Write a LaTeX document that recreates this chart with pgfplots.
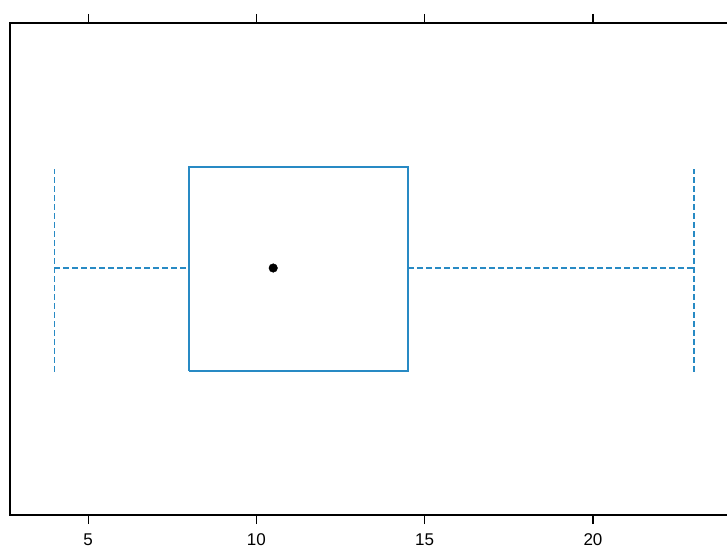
\documentclass[border=0pt]{standalone}
\usepackage{pgfplots}
\pgfplotsset{compat=1.18}
\usepackage{fontspec}
\setmainfont{Liberation Sans}
\definecolor{boxc}{RGB}{40,138,196}
\begin{document}
\begin{tikzpicture}[x=1pt,y=1pt]
\useasboundingbox (0,0) rectangle (727,549);
\begin{axis}[
  at={(10pt,34pt)}, anchor=south west,
  scale only axis, width=718.6pt, height=492pt,
  xmin=2.68, xmax=24.03, ymin=0, ymax=1,
  xtick={5,10,15,20}, ytick=\empty,
  tick pos=both, xticklabel pos=lower,
  tick align=outside, major tick length=9pt,
  tick style={black, line width=1.1pt},
  axis line style={black, line width=1.1pt},
  ticklabel style={font=\fontsize{17}{17}\selectfont},
  xticklabel style={yshift=-6pt},
  /pgf/number format/assume math mode=true,
  clip=false,
]
\addplot[boxc, line width=1.6pt] coordinates {(8,0.293) (14.5,0.293) (14.5,0.707) (8,0.707) (8,0.293)};
\addplot[boxc, line width=1.5pt, dash pattern=on 6pt off 3pt] coordinates {(4,0.502) (8,0.502)};
\addplot[boxc, line width=1.5pt, dash pattern=on 6pt off 3pt] coordinates {(14.5,0.502) (23,0.502)};
\addplot[boxc, line width=1.5pt, dash pattern=on 6pt off 3pt] coordinates {(4,0.291) (4,0.703)};
\addplot[boxc, line width=1.5pt, dash pattern=on 6pt off 3pt] coordinates {(23,0.291) (23,0.703)};
\addplot[only marks, mark=*, mark size=4.3pt, black] coordinates {(10.5,0.502)};
\end{axis}
\end{tikzpicture}
\end{document}
